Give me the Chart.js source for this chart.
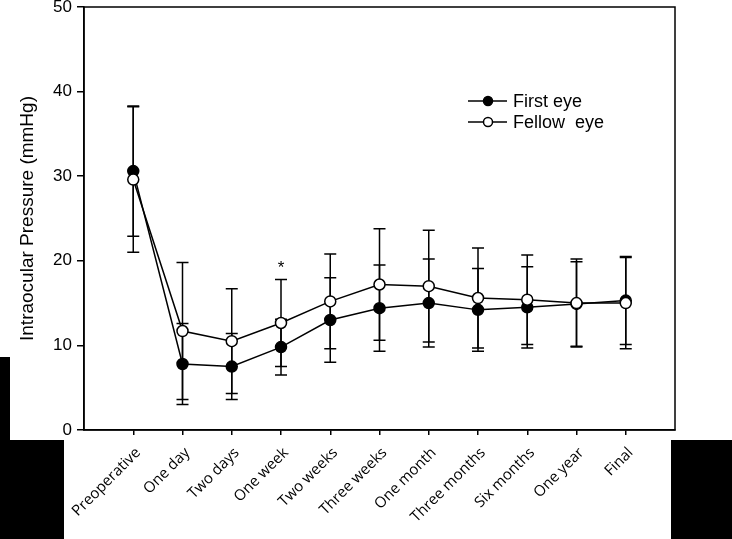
<!DOCTYPE html>
<html>
<head>
<meta charset="utf-8">
<script src="https://cdn.jsdelivr.net/npm/chart.js@4.4.0/dist/chart.umd.min.js"></script>
<style>
html, body { margin: 0; padding: 0; background: #fff; }
#wrap { position: relative; width: 732px; height: 539px; }
#grafica { position: absolute; left: 0; top: 0; }
.bloque { position: absolute; background: #000; }
</style>
</head>
<body>
<div id="wrap">
  <canvas id="grafica" width="732" height="539"></canvas>
  <div class="bloque" style="left:0;top:357px;width:10px;height:182px"></div>
  <div class="bloque" style="left:0;top:440px;width:64px;height:99px"></div>
  <div class="bloque" style="left:671px;top:440px;width:61px;height:99px"></div>
</div>
<script>
// Datos
const categorias = ['Preoperative', 'One day', 'Two days', 'One week', 'Two weeks', 'Three weeks',
    'One month', 'Three months', 'Six months', 'One year', 'Final'];
const firstEye  = [30.6, 7.8, 7.5, 9.8, 13.0, 14.4, 15.0, 14.2, 14.5, 14.9, 15.3];
const firstSD   = [7.7, 4.8, 3.9, 3.3, 5.0, 5.1, 5.2, 4.9, 4.8, 5.0, 5.2];
const fellowEye = [29.6, 11.7, 10.5, 12.65, 15.2, 17.2, 17.0, 15.6, 15.4, 15.0, 15.0];
const fellowSD  = [8.6, 8.1, 6.2, 5.15, 5.6, 6.6, 6.6, 5.9, 5.3, 5.2, 5.4];
const yTicks = [0, 10, 20, 30, 40, 50];
const marcas = [{ indice: 3, texto: '*' }];
const nombres = ['First eye', 'Fellow  eye'];

const puntos = (arr) => arr.map((v, i) => ({ x: i, y: v }));

// Barras de error, marco, asterisco y leyenda
const extras = {
    id: 'extras',
    beforeDatasetsDraw(chart) {
        const { ctx, scales: { x, y } } = chart;
        ctx.save();
        ctx.strokeStyle = '#000';
        ctx.lineWidth = 1.5;
        [[firstEye, firstSD], [fellowEye, fellowSD]].forEach(([m, sd]) => {
            m.forEach((v, i) => {
                const px = x.getPixelForValue(i);
                const y1 = y.getPixelForValue(v + sd[i]);
                const y2 = y.getPixelForValue(v - sd[i]);
                ctx.beginPath();
                ctx.moveTo(px, y1); ctx.lineTo(px, y2);
                ctx.moveTo(px - 6, y1); ctx.lineTo(px + 6, y1);
                ctx.moveTo(px - 6, y2); ctx.lineTo(px + 6, y2);
                ctx.stroke();
            });
        });
        ctx.restore();
    },
    afterDraw(chart) {
        const { ctx, chartArea: a, scales: { x, y } } = chart;
        ctx.save();
        ctx.strokeStyle = '#000';
        ctx.lineWidth = 1.5;
        ctx.strokeRect(a.left, a.top, a.right - a.left, a.bottom - a.top);

        // asterisco
        ctx.fillStyle = '#000';
        ctx.font = '17px "Liberation Sans", Arial, sans-serif';
        ctx.textAlign = 'center';
        ctx.textBaseline = 'middle';
        marcas.forEach(m => {
            const top = Math.max(firstEye[m.indice] + firstSD[m.indice], fellowEye[m.indice] + fellowSD[m.indice]);
            ctx.fillText(m.texto, x.getPixelForValue(m.indice), y.getPixelForValue(top) - 11);
        });

        // leyenda
        ctx.font = '18px "Liberation Sans", Arial, sans-serif';
        ctx.textAlign = 'left';
        const relleno = ['#000', '#fff'];
        [101, 122].forEach((ly, k) => {
            ctx.beginPath();
            ctx.moveTo(468, ly); ctx.lineTo(507, ly);
            ctx.stroke();
            ctx.beginPath();
            ctx.arc(488, ly, 4.5, 0, Math.PI * 2);
            ctx.fillStyle = relleno[k];
            ctx.fill();
            ctx.stroke();
            ctx.fillStyle = '#000';
            ctx.fillText(nombres[k], 513, ly + 1);
        });
        ctx.restore();
    }
};

const ctx = document.getElementById('grafica').getContext('2d');
const chart = new Chart(ctx, {
    type: 'line',
    data: {
        datasets: [
            {
                label: nombres[0],
                data: puntos(firstEye),
                borderColor: '#000',
                backgroundColor: '#000',
                borderWidth: 1.5,
                pointRadius: 5.5,
                pointBorderWidth: 1.5,
                tension: 0,
                order: 2
            },
            {
                label: nombres[1],
                data: puntos(fellowEye),
                borderColor: '#000',
                backgroundColor: '#fff',
                borderWidth: 1.5,
                pointRadius: 5.5,
                pointBorderWidth: 1.5,
                tension: 0,
                order: 1
            }
        ]
    },
    options: {
        responsive: false,
        animation: false,
        layout: { padding: { top: 6, right: 57, left: 0, bottom: 0 } },
        plugins: {
            legend: { display: false },
            tooltip: { enabled: false }
        },
        scales: {
            x: {
                type: 'linear',
                min: -1,
                max: 11,
                afterBuildTicks: (s) => { s.ticks = categorias.map((_, i) => ({ value: i })); },
                afterFit: (s) => { s.height = 109; s.paddingLeft = 0; s.paddingRight = 0; },
                border: { display: true, color: '#000', width: 1.5 },
                grid: { drawOnChartArea: false, drawTicks: true, tickLength: 5, color: '#000', lineWidth: 1.5 },
                ticks: {
                    autoSkip: false,
                    maxRotation: 45,
                    minRotation: 45,
                    padding: 9,
                    labelOffset: 5,
                    color: '#000',
                    font: { family: '"Open Sans", sans-serif', size: 15 },
                    callback: (v) => categorias[v]
                }
            },
            y: {
                min: 0,
                max: 50,
                afterBuildTicks: (s) => { s.ticks = yTicks.map(v => ({ value: v })); },
                afterFit: (s) => { s.width = 84; s.paddingTop = 0; s.paddingBottom = 0; },
                border: { display: true, color: '#000', width: 1.5 },
                grid: { drawOnChartArea: false, drawTicks: true, tickLength: 7, color: '#000', lineWidth: 1.5 },
                ticks: {
                    padding: 5,
                    color: '#000',
                    font: { family: '"Liberation Sans", Arial, sans-serif', size: 17 }
                },
                title: {
                    display: true,
                    text: 'Intraocular Pressure (mmHg)',
                    color: '#000',
                    padding: { top: 16, bottom: 0 },
                    font: { family: '"Liberation Sans", Arial, sans-serif', size: 19, weight: 'normal' }
                }
            }
        }
    },
    plugins: [extras]
});
</script>
</body>
</html>
